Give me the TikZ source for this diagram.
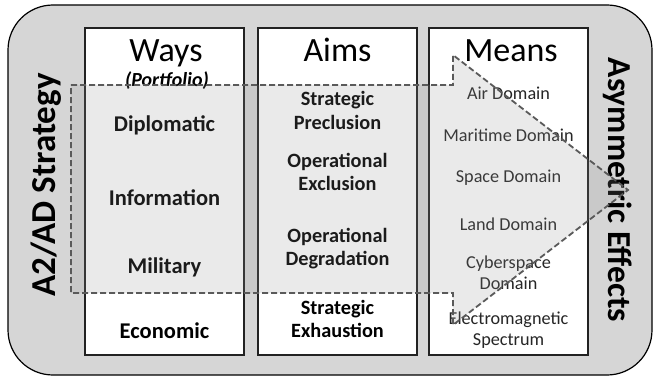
\documentclass[tikz,border=0pt]{standalone}
\usepackage{fontspec}
\setmainfont{Carlito}
\definecolor{bggray}{HTML}{D6D6D6}
\definecolor{boxline}{HTML}{222222}
\definecolor{dashcol}{HTML}{5A5A5A}
\tikzset{
  colbox/.style={draw=boxline, line width=1.8pt, fill=white},
  head/.style={font=\fontsize{34}{36}\selectfont, anchor=base},
  portf/.style={font=\bfseries\itshape\fontsize{20}{22}\selectfont, anchor=base},
  waysitem/.style={font=\bfseries\fontsize{22.5}{24}\selectfont},
  aimitem/.style={font=\bfseries\fontsize{20.3}{23.5}\selectfont, align=center},
  meanitem/.style={font=\fontsize{18.2}{21}\selectfont, align=center, text=black!85},
  side/.style={font=\bfseries\fontsize{35}{38}\selectfont},
  overlay arrow/.style={draw=dashcol, line width=1.8pt, dash pattern=on 6pt off 3pt,
    fill=black!42, fill opacity=0.19},
}
\begin{document}
\begin{tikzpicture}[x=1pt,y=-1pt]
\useasboundingbox (0,0) rectangle (653,377);
% outer panel
\draw[fill=bggray, draw=black, line width=1.2pt, rounded corners=45pt] (8,5) rectangle (652,375);
% columns
\node[colbox, minimum width=159pt, minimum height=327pt, inner sep=0pt] (ways) at (164.5,191.5) {};
\node[colbox, minimum width=159pt, minimum height=327pt, inner sep=0pt] (aims) at (337.5,191.5) {};
\node[colbox, minimum width=159pt, minimum height=327pt, inner sep=0pt] (means) at (508.5,191.5) {};
% headings
\node[head] (waysh) at (166,62) {Ways};
\node[head] (aimsh) at (337.5,62) {Aims};
\node[head] (meansh) at (511,62) {Means};
\node[portf] (portfolio) at (167,87) {(Portfolio)};
% ways items
\node[waysitem] (dipl) at (164.5,125) {Diplomatic};
\node[waysitem] (info) at (164.5,198) {Information};
\node[waysitem] (mil) at (164.5,267) {Military};
\node[waysitem] (econ) at (164.5,331) {Economic};
% aims items
\node[aimitem] (a1) at (337.5,110.5) {Strategic\\Preclusion};
\node[aimitem] (a2) at (337.5,172) {Operational\\Exclusion};
\node[aimitem] (a3) at (337.5,248.5) {Operational\\Degradation};
\node[aimitem] (a4) at (337.5,319) {Strategic\\Exhaustion};
% means items
\node[meanitem] (m1) at (508.5,93) {Air Domain};
\node[meanitem] (m2) at (508.5,135) {Maritime Domain};
\node[meanitem] (m3) at (508.5,178) {Space Domain};
\node[meanitem] (m4) at (508.5,224) {Land Domain};
\node[meanitem] (m5) at (508.5,272.5) {Cyberspace\\Domain};
\node[meanitem] (m6) at (508.5,330) {Electromagnetic\\Spectrum};
% side labels
\node[side, rotate=90] (strategy) at (46,185) {A2/AD Strategy};
\node[side, rotate=-90, font=\bfseries\fontsize{33.5}{36}\selectfont] (effects) at (618,190) {Asymmetric Effects};
% overlay arrow
\draw[overlay arrow] (71,85) -- (453,85) -- (453,55) -- (628,190) -- (453,325) -- (453,293) -- (71,293) -- cycle;
\end{tikzpicture}
\end{document}
